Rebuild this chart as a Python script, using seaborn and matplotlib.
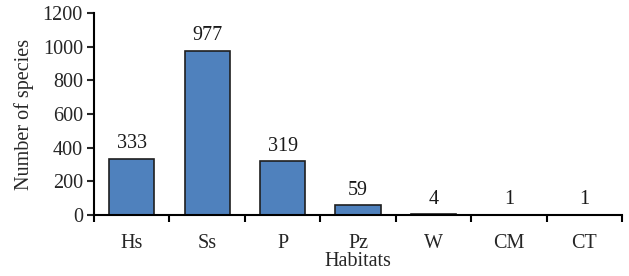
import numpy as np
import pandas as pd
import matplotlib
matplotlib.use("Agg")
import matplotlib.pyplot as plt
import seaborn as sns
from matplotlib.ticker import FixedLocator

habitats = ["Hs", "Ss", "P", "Pz", "W", "CM", "CT"]
species = [333, 977, 319, 59, 4, 1, 1]
yticks = [0, 200, 400, 600, 800, 1000, 1200]

sns.set_style("ticks")
plt.rcParams["font.family"] = ["Liberation Serif", "DejaVu Serif"]
fs = 14.5

df = pd.DataFrame({"Habitats": habitats, "Number of species": species})

fig = plt.figure(figsize=(6.29, 2.76), dpi=100)
ax = fig.add_axes([0.1494, 0.221, 0.8396, 0.732])

sns.barplot(data=df, x="Habitats", y="Number of species", color="#4f81bd",
            saturation=1, width=0.6, edgecolor="#1f1f1f", linewidth=1.2, ax=ax)

ax.bar_label(ax.containers[0], labels=[str(v) for v in species],
             padding=4, fontsize=fs, color="#1a1a1a")

ax.set_xlim(-0.5, len(habitats) - 0.5)
ax.set_ylim(0, 1200)
ax.set_yticks(yticks)
ax.tick_params(axis="x", which="major", length=0, labelsize=fs, pad=14)
ax.xaxis.set_minor_locator(FixedLocator(np.arange(-0.5, len(habitats), 1.0)))
ax.tick_params(axis="x", which="minor", length=5, width=1.5, color="black")
ax.tick_params(axis="y", length=5, width=1.5, labelsize=fs, pad=3)

ax.set_xlabel("Habitats", fontsize=fs, labelpad=-1)
ax.set_ylabel("Number of species", fontsize=fs, labelpad=6)

for s in ["top", "right"]:
    ax.spines[s].set_visible(False)
for s in ["left", "bottom"]:
    ax.spines[s].set_linewidth(1.5)
    ax.spines[s].set_color("black")

fig.savefig("out.png", dpi=100)
